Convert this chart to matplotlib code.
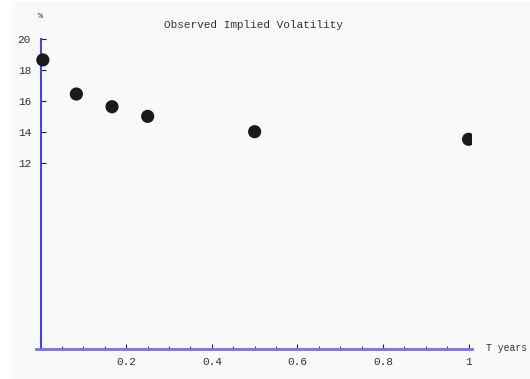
import matplotlib.pyplot as plt
import matplotlib.patches as mpatches
from matplotlib.ticker import MultipleLocator, FixedLocator

# Данные: срок (годы) и наблюдаемая подразумеваемая волатильность (%)
maturity = [0.005, 1 / 12, 2 / 12, 3 / 12, 0.5, 1.0]
implied_vol = [18.65, 16.45, 15.63, 15.01, 14.02, 13.53]

x_ticks = [0.2, 0.4, 0.6, 0.8, 1.0]
x_tick_labels = ["0.2", "0.4", "0.6", "0.8", "1"]
y_ticks = [12, 14, 16, 18, 20]

mono = "Liberation Mono"
text_col = "#333333"

fig = plt.figure(figsize=(5.3, 3.79), dpi=100)
fig.patch.set_facecolor("white")
# светло-серый фон как в Mathematica
fig.patches.append(mpatches.Rectangle((12 / 530, 0), 1, 377 / 379,
                                      transform=fig.transFigure,
                                      facecolor="#f9f9f9", edgecolor="none",
                                      zorder=-10))

ax = fig.add_axes([36 / 530, 30 / 379, 436 / 530, 310 / 379])
ax.set_facecolor("none")
ax.set_xlim(-0.011, 1.008)
ax.set_ylim(0, 20)

ax.scatter(maturity, implied_vol, s=90, color="#1a1a1a", zorder=5,
           edgecolors="none")

for side in ["top", "right"]:
    ax.spines[side].set_visible(False)
ax.spines["left"].set_position(("data", 0))
ax.spines["left"].set_bounds(0, 20)
ax.spines["left"].set_color("#3c3cff")
ax.spines["left"].set_linewidth(1.4)
ax.spines["bottom"].set_color("#7070ff")
ax.spines["bottom"].set_linewidth(2.0)

ax.xaxis.set_major_locator(FixedLocator(x_ticks))
ax.set_xticklabels(x_tick_labels)
ax.xaxis.set_minor_locator(MultipleLocator(0.05))
ax.yaxis.set_major_locator(FixedLocator(y_ticks))
ax.set_yticklabels([str(v) for v in y_ticks])

ax.tick_params(axis="both", which="major", direction="in", length=3.5,
               width=0.8, color="#222222", labelsize=8, labelcolor=text_col)
ax.tick_params(axis="both", which="minor", direction="in", length=2,
               width=0.6, color="#222222")
ax.tick_params(axis="x", pad=6)
ax.tick_params(axis="y", pad=7)
for lab in ax.get_xticklabels() + ax.get_yticklabels():
    lab.set_family(mono)

fig.text(253 / 530, 1 - 25 / 379, "Observed Implied Volatility",
         family=mono, fontsize=8, color=text_col, ha="center", va="center")
fig.text(40 / 530, 1 - 16 / 379, "%", family=mono, fontsize=6,
         color=text_col, ha="center", va="center")
fig.text(486 / 530, 1 - 348 / 379, "T years", family=mono, fontsize=7,
         color=text_col, ha="left", va="center")

fig.savefig("out.png", dpi=100, facecolor=fig.get_facecolor())
